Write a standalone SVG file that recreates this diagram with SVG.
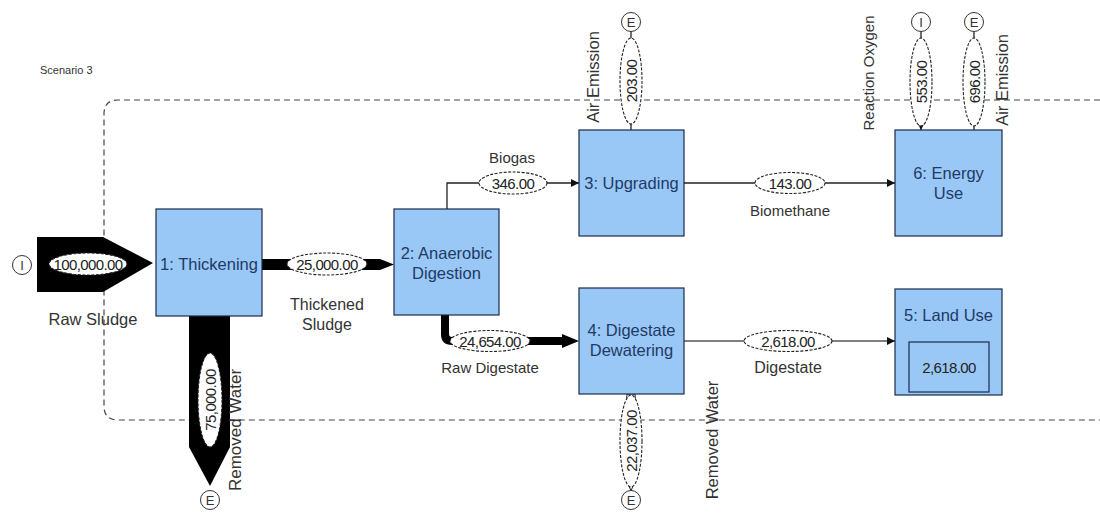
<svg xmlns="http://www.w3.org/2000/svg" width="1100" height="513" viewBox="0 0 1100 513">
<defs>
<style>
text{font-family:"Liberation Sans",Arial,sans-serif;font-size:15px;fill:#333;}
.node rect{fill:#99c8f7;stroke:#1a2a4a;stroke-width:1.2;}
.nt{fill:#1f3a66;font-size:16.5px;text-anchor:middle;}
.lbl{text-anchor:middle;fill:#333;}
.val{text-anchor:middle;fill:#222;font-size:15px;letter-spacing:-0.6px;}
.oval{fill:#fff;stroke:#222;stroke-width:1.1;stroke-dasharray:3,1.5;}
.wline{stroke:#222;stroke-width:1.3;fill:none;}
.term{fill:#fff;stroke:#333;stroke-width:1;}
.tt{text-anchor:middle;font-size:13px;fill:#333;}
</style>
<marker id="ah" viewBox="0 0 10 10" refX="10" refY="5" markerWidth="8" markerHeight="8" orient="auto" markerUnits="userSpaceOnUse"><path d="M0,0L10,5L0,10z" fill="#111"/></marker>
</defs>
<rect width="1100" height="513" fill="#fff"/>
<text x="40" y="74" style="font-size:11px">Scenario 3</text>
<path d="M1110,100H118Q104,100 104,114V406Q104,420 118,420H1110" fill="none" stroke="#444" stroke-width="1.2" stroke-dasharray="6,4"/>

<g id="connectors">
<!-- raw sludge -->
<path d="M37,237H103L153,263L103,292H37Z" fill="#000"/>
<ellipse class="oval" cx="88" cy="264" rx="39" ry="11"/>
<text class="val" x="88" y="269.5">100,000.00</text>
<text class="lbl" x="93" y="325" style="font-size:16.5px">Raw Sludge</text>
<!-- 1 -> 2 -->
<path d="M262,259H380L394,264.5L380,270H262Z" fill="#000"/>
<ellipse class="oval" cx="327" cy="264" rx="40" ry="11"/>
<text class="val" x="327" y="269.5">25,000.00</text>
<text class="lbl" x="327" y="310" style="font-size:16px">Thickened</text>
<text class="lbl" x="327" y="330" style="font-size:16px">Sludge</text>
<!-- removed water 1 -->
<path d="M189,316H230V447L210,486L189,447Z" fill="#000"/>
<ellipse class="oval" cx="210" cy="400" rx="12" ry="47"/>
<text class="val" transform="translate(215.5,400) rotate(-90)">75,000.00</text>
<text class="lbl" transform="translate(241,430) rotate(-90)" style="font-size:17px">Removed Water</text>
<!-- biogas -->
<path class="wline" d="M447,209V183H579" marker-end="url(#ah)"/>
<ellipse class="oval" cx="513" cy="183" rx="34" ry="11"/>
<text class="val" x="513" y="188.5">346.00</text>
<text class="lbl" x="512" y="163">Biogas</text>
<!-- raw digestate -->
<path d="M445,315V334Q445,341 452,341H565" fill="none" stroke="#000" stroke-width="8"/>
<path d="M562,334L579,341L562,348Z" fill="#000"/>
<ellipse class="oval" cx="490" cy="341" rx="40" ry="10.5"/>
<text class="val" x="490" y="346.5">24,654.00</text>
<text class="lbl" x="490" y="373">Raw Digestate</text>
<!-- digestate -->
<path d="M684,341H895" stroke="#555" stroke-width="1.3" fill="none" marker-end="url(#ah)"/>
<ellipse class="oval" cx="788" cy="341" rx="44" ry="10.5"/>
<text class="val" x="788" y="346.5">2,618.00</text>
<text class="lbl" x="788" y="373" style="font-size:16px">Digestate</text>
<!-- biomethane -->
<path class="wline" d="M684,183H895" marker-end="url(#ah)"/>
<ellipse class="oval" cx="790" cy="183" rx="35" ry="10.5"/>
<text class="val" x="790" y="188.5">143.00</text>
<text class="lbl" x="790" y="216">Biomethane</text>
<!-- air emission 3 -->
<path class="wline" d="M631,130V31"/>
<ellipse class="oval" cx="631" cy="81" rx="11" ry="43"/>
<text class="val" transform="translate(636.5,81) rotate(-90)">203.00</text>
<text class="lbl" transform="translate(599,77) rotate(-90)" style="font-size:16.5px">Air Emission</text>
<!-- reaction oxygen -->
<path class="wline" d="M921,31V130" marker-end="url(#ah)"/>
<ellipse class="oval" cx="921" cy="82" rx="11" ry="44"/>
<text class="val" transform="translate(926.5,82) rotate(-90)">553.00</text>
<text class="lbl" transform="translate(874,73) rotate(-90)">Reaction Oxygen</text>
<!-- air emission 6 -->
<path class="wline" d="M974,130V31"/>
<ellipse class="oval" cx="974" cy="82" rx="11" ry="44"/>
<text class="val" transform="translate(979.5,82) rotate(-90)">696.00</text>
<text class="lbl" transform="translate(1008,80) rotate(-90)" style="font-size:16.5px">Air Emission</text>
<!-- removed water 4 -->
<path d="M627,394L626,410V478L631,491L636,478V410L635,394Z" fill="#fff" stroke="#222" stroke-width="1"/>
<ellipse class="oval" cx="631" cy="441" rx="11" ry="46"/>
<text class="val" transform="translate(636.5,441) rotate(-90)">22,037.00</text>
<text class="lbl" transform="translate(718,440) rotate(-90)" style="font-size:16.5px">Removed Water</text>
</g>

<g id="terminals">
<g id="t-in1"><circle class="term" cx="22" cy="265" r="9.5"/><text class="tt" x="22" y="269.5" style="fill:#333">I</text></g>
<g id="t-out1"><circle class="term" cx="210" cy="500" r="9.5"/><text class="tt" x="210" y="504.5">E</text></g>
<g id="t-out3"><circle class="term" cx="631" cy="22" r="9.5"/><text class="tt" x="631" y="26.5">E</text></g>
<g id="t-in6"><circle class="term" cx="921" cy="22" r="9.5"/><text class="tt" x="921" y="26.5" style="fill:#333">I</text></g>
<g id="t-out6"><circle class="term" cx="974" cy="22" r="9.5"/><text class="tt" x="974" y="26.5">E</text></g>
<g id="t-out4"><circle class="term" cx="631" cy="500" r="9.5"/><text class="tt" x="631" y="504.5">E</text></g>
</g>

<g id="node1" class="node"><rect x="156" y="209" width="106" height="107"/><text class="nt" x="209" y="270">1: Thickening</text></g>
<g id="node2" class="node"><rect x="394" y="209" width="105" height="106"/><text class="nt" x="446.5" y="259">2: Anaerobic</text><text class="nt" x="446.5" y="279">Digestion</text></g>
<g id="node3" class="node"><rect x="579" y="130" width="105" height="106"/><text class="nt" x="631.5" y="189">3: Upgrading</text></g>
<g id="node4" class="node"><rect x="579" y="288" width="105" height="106"/><text class="nt" x="631.5" y="336">4: Digestate</text><text class="nt" x="631.5" y="356">Dewatering</text></g>
<g id="node5" class="node"><rect x="895" y="289" width="107" height="106"/><text class="nt" x="948.5" y="321">5: Land Use</text><rect x="909" y="342" width="80" height="50" style="stroke-width:1.2"/><text class="val" x="949" y="373" style="fill:#222">2,618.00</text></g>
<g id="node6" class="node"><rect x="895" y="130" width="107" height="106"/><text class="nt" x="948.5" y="179">6: Energy</text><text class="nt" x="948.5" y="199">Use</text></g>
</svg>
